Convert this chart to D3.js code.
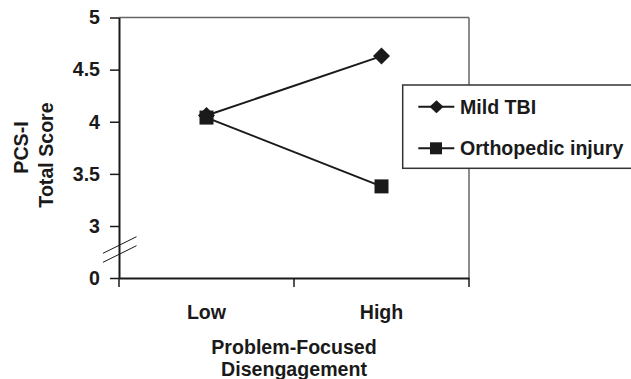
<!DOCTYPE html>
<html>
<head>
<meta charset="utf-8">
<script src="https://cdn.jsdelivr.net/npm/d3@7/dist/d3.min.js"></script>
<style>
  html, body { margin: 0; padding: 0; background: #fff; }
  svg { display: block; }
  text { font-family: "Liberation Sans", Arial, Helvetica, sans-serif; font-weight: bold; fill: #1a1a1a; }
</style>
</head>
<body>
<script>
// ---- data ----
const categories = ["Low", "High"];
const seriesNames = ["Mild TBI", "Orthopedic injury"];
const mildTBI = [4.06, 4.63];
const orthopedic = [4.04, 3.38];
const yTickValues = [0, 3, 3.5, 4, 4.5, 5];
const yTickLabels = ["0", "3", "3.5", "4", "4.5", "5"];
const xTitle = ["Problem-Focused", "Disengagement"];
const yTitle = ["PCS-I", "Total Score"];

(function () {
const W = 631, H = 379;
const FS = "19.6px";
const svg = d3.select("body").append("svg").attr("width", W).attr("height", H);

const pLeft = 119, pRight = 469, pTop = 17.5, pBottom = 278;
// broken axis: 0 sits one step below 3
const y = d3.scaleLinear().domain([0, 3, 5]).range([pBottom, 226, pTop]);
const x = d3.scaleBand().domain(categories).range([pLeft, pRight]).padding(0);

const ink = "#1a1a1a";

// plot frame (top & right, gray)
svg.append("line").attr("x1", pLeft).attr("x2", pRight).attr("y1", pTop).attr("y2", pTop)
  .attr("stroke", "#666").attr("stroke-width", 1.5);
svg.append("line").attr("x1", pRight).attr("x2", pRight).attr("y1", pTop).attr("y2", pBottom)
  .attr("stroke", "#666").attr("stroke-width", 1.5);

// y axis
const yAxis = d3.axisLeft(y).tickValues(yTickValues)
  .tickFormat((d, i) => yTickLabels[i]).tickSize(9).tickPadding(10).tickSizeOuter(0);
const gy = svg.append("g").attr("transform", `translate(${pLeft},0)`).call(yAxis);
gy.select(".domain").attr("stroke", ink).attr("stroke-width", 2);
gy.selectAll(".tick line").attr("stroke", ink).attr("stroke-width", 1.5);
gy.selectAll(".tick text").style("font-size", FS).attr("fill", ink);
gy.attr("font-family", null).attr("font-size", null);

// x axis
const xAxis = d3.axisBottom(x).tickSize(0).tickPadding(0).tickSizeOuter(0);
const gx = svg.append("g").attr("transform", `translate(0,${pBottom})`).call(xAxis);
gx.select(".domain").attr("stroke", ink).attr("stroke-width", 2);
gx.selectAll(".tick text").style("font-size", FS).attr("fill", ink)
  .attr("y", 41).attr("dy", 0);
gx.attr("font-family", null).attr("font-size", null);
// boundary ticks
const bounds = categories.map(c => x(c)).concat([x.range()[1]]);
svg.append("g").selectAll("line").data(bounds).join("line")
  .attr("x1", d => d).attr("x2", d => d).attr("y1", pBottom).attr("y2", pBottom + 9)
  .attr("stroke", ink).attr("stroke-width", 1.5);

// axis break marks
const bm = (y(0) + y(3)) / 2 - 2.5;
[-4.5, 4.5].forEach(o => {
  svg.append("line").attr("x1", pLeft - 16).attr("x2", pLeft + 17.5)
    .attr("y1", bm + o + 8.3).attr("y2", bm + o - 8.3)
    .attr("stroke", ink).attr("stroke-width", 1);
});

// series
const cxOf = i => x(categories[i]) + x.bandwidth() / 2;
const lineGen = d3.line().x((d, i) => cxOf(i)).y(d => y(d));
const diamond = (s, cx, cy, hw, hh) =>
  s.append("path").attr("d", `M${cx},${cy - hh}L${cx + hw},${cy}L${cx},${cy + hh}L${cx - hw},${cy}Z`).attr("fill", ink);
const square = (s, cx, cy, a) =>
  s.append("rect").attr("x", cx - a / 2).attr("y", cy - a / 2).attr("width", a).attr("height", a).attr("fill", ink);

svg.append("path").datum(mildTBI).attr("d", lineGen).attr("fill", "none").attr("stroke", ink).attr("stroke-width", 2);
svg.append("path").datum(orthopedic).attr("d", lineGen).attr("fill", "none").attr("stroke", ink).attr("stroke-width", 2);
mildTBI.forEach((v, i) => diamond(svg, cxOf(i), y(v), 8.5, 8.5));
orthopedic.forEach((v, i) => square(svg, cxOf(i), y(v), 14));

// legend
const lg = svg.append("g");
lg.append("rect").attr("x", 402.7).attr("y", 85).attr("width", 260).attr("height", 83.3)
  .attr("fill", "#fff").attr("stroke", "#333").attr("stroke-width", 1.5);
const legY = [106.7, 148.3];
seriesNames.forEach((name, i) => {
  lg.append("line").attr("x1", 418.3).attr("x2", 454.3).attr("y1", legY[i]).attr("y2", legY[i])
    .attr("stroke", ink).attr("stroke-width", 2);
  if (i === 0) diamond(lg, 436.5, legY[i], 7, 6.5);
  else square(lg, 436, legY[i], 12);
  lg.append("text").attr("x", 460).attr("y", legY[i]).attr("dy", "0.35em")
    .style("font-size", FS).text(name);
});

// axis titles
svg.append("text").attr("x", 294).attr("y", 354).attr("text-anchor", "middle")
  .style("font-size", FS).text(xTitle[0]);
svg.append("text").attr("x", 294).attr("y", 376).attr("text-anchor", "middle")
  .style("font-size", FS).text(xTitle[1]);
svg.append("text").attr("transform", "translate(28,147.5) rotate(-90)").attr("text-anchor", "middle")
  .style("font-size", FS).text(yTitle[0]);
svg.append("text").attr("transform", "translate(53,155) rotate(-90)").attr("text-anchor", "middle")
  .style("font-size", FS).text(yTitle[1]);
})();
</script>
</body>
</html>
